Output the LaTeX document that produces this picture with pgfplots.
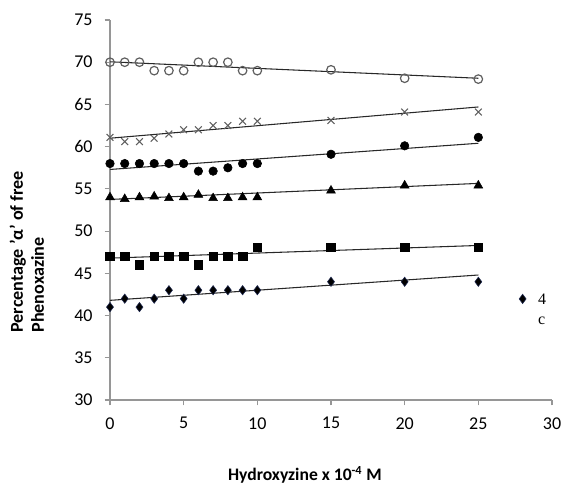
\documentclass[border=0pt]{standalone}
\usepackage{fontspec}
\setmainfont{Carlito}
\newfontfamily\legfont{Liberation Serif}
\usepackage{pgfplots}
\pgfplotsset{compat=1.18}
\definecolor{axgray}{RGB}{150,150,150}
\definecolor{mkgray}{RGB}{95,95,95}
\definecolor{trend}{RGB}{40,40,40}
\definecolor{dmedge}{RGB}{30,40,80}
\begin{document}
\begin{tikzpicture}
\begin{axis}[
  at={(82.5pt,63pt)}, anchor=south west,
  scale only axis, width=331.5pt, height=285pt,
  xmin=0, xmax=30, ymin=30, ymax=75,
  xtick={0,5,...,30}, ytick={30,35,...,75},
  axis lines=left,
  axis line style={draw=axgray, line width=0.8pt, -},
  tick style={draw=axgray, line width=0.8pt},
  major tick length=4pt, tick align=outside,
  /pgf/number format/assume math mode=true,
  ticklabel style={font=\fontsize{13.5}{15}\selectfont, text=black},
  xticklabel style={yshift=-5.5pt},
  yticklabel style={xshift=-5.5pt},
  xlabel={\textbf{Hydroxyzine x 10\textsuperscript{-4} M}},
  xlabel style={at={(axis description cs:0.441,-0.2124)}, anchor=base, font=\fontsize{13.2}{15}\selectfont},
  ylabel={\textbf{Percentage 'α' of free}\\\textbf{Phenoxazine}},
  ylabel style={at={(axis description cs:-0.188,0.39)}, anchor=center, rotate=0, align=left, font=\fontsize{13.6}{15.8}\selectfont},
  legend style={draw=none, fill=none, at={(axis description cs:0.916,0.266)}, anchor=west, font=\legfont\fontsize{12}{14}\selectfont, row sep=0pt},
  legend cell align=left,
  clip=false,
]
% trend lines
\addplot[trend, line width=0.8pt, forget plot] coordinates {(0,70.05) (25,68.1)};
\addplot[trend, line width=0.8pt, forget plot] coordinates {(0,61.0) (25,64.7)};
\addplot[trend, line width=0.8pt, forget plot] coordinates {(0,57.3) (25,60.4)};
\addplot[trend, line width=0.8pt, forget plot] coordinates {(0,53.75) (25,55.65)};
\addplot[trend, line width=0.8pt, forget plot] coordinates {(0,46.8) (25,48.3)};
\addplot[trend, line width=0.8pt, forget plot] coordinates {(0,41.8) (25,44.8)};
% open circles
\addplot[only marks, mark=o, mark size=3.2pt, mkgray, line width=0.9pt, forget plot] coordinates {
(0,70) (1,70) (2,70) (3,69) (4,69) (5,69) (6,70) (7,70) (8,70) (9,69) (10,69) (15,69.1) (20,68.1) (25,68)};
% crosses
\addplot[only marks, mark=x, mark size=3.6pt, mkgray, line width=0.8pt, forget plot] coordinates {
(0,61.1) (1,60.6) (2,60.6) (3,61) (4,61.5) (5,62) (6,62) (7,62.5) (8,62.5) (9,63) (10,63) (15,63.1) (20,64.1) (25,64.1)};
% filled circles
\addplot[only marks, mark=*, mark size=3.2pt, black, forget plot] coordinates {
(0,58) (1,58) (2,58) (3,58) (4,58) (5,58) (6,57.1) (7,57.1) (8,57.5) (9,58) (10,58) (15,59.1) (20,60.1) (25,61.1)};
% triangles
\addplot[only marks, mark=triangle*, mark size=3.8pt, black, forget plot] coordinates {
(0,54) (1,53.8) (2,54) (3,54.1) (4,53.9) (5,54) (6,54.3) (7,53.9) (8,53.9) (9,54) (10,54) (15,54.8) (20,55.4) (25,55.4)};
% squares
\addplot[only marks, mark=square*, mark size=3.2pt, black, forget plot] coordinates {
(0,47) (1,47) (2,46) (3,47) (4,47) (5,47) (6,46) (7,47) (8,47) (9,47) (10,48.1) (15,48.1) (20,48.1) (25,48.1)};
% diamonds
\addplot[only marks, mark=diamond*, mark size=3.5pt, draw=dmedge, fill=black] coordinates {
(0,41) (1,42) (2,41) (3,42) (4,43) (5,42) (6,43) (7,43) (8,43) (9,43) (10,43) (15,44) (20,44) (25,44)};
\addlegendentry{\hspace{7pt}\begin{tabular}[t]{@{}l@{}}4\\[1pt]c\end{tabular}}
\end{axis}
\pgfresetboundingbox
\path (0,0) rectangle (420.75pt,363pt);
\end{tikzpicture}
\end{document}
